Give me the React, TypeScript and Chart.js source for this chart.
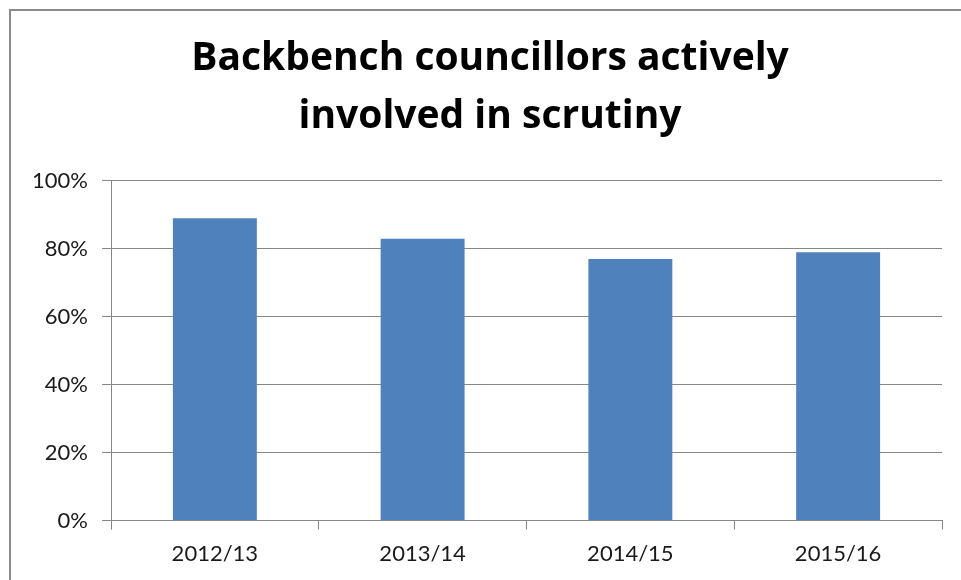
import React, { useEffect, useRef } from "react";
import { Chart, registerables } from "chart.js";

Chart.register(...registerables);

const categories = ["2012/13", "2013/14", "2014/15", "2015/16"];
const seriesValues = [89, 83, 77, 79];
const titleLines = ["Backbench councillors actively", "involved in scrutiny"];
const yTickMax = 100;
const yTickStep = 20;

const framePlugin = {
  id: "frame",
  beforeDraw(chart: any) {
    const ctx = chart.ctx;
    ctx.save();
    ctx.fillStyle = "#ffffff";
    ctx.fillRect(0, 0, chart.width, chart.height);
    ctx.strokeStyle = "#8a8a8a";
    ctx.lineWidth = 2;
    ctx.beginPath();
    ctx.moveTo(10, chart.height + 5);
    ctx.lineTo(10, 10);
    ctx.lineTo(chart.width + 5, 10);
    ctx.stroke();
    ctx.restore();
  },
  afterLayout(chart: any) {
    const tb = chart.titleBlock;
    if (tb) {
      tb.left += 7;
      tb.right += 7;
    }
  },
};

export default function App() {
  const ref = useRef<HTMLCanvasElement | null>(null);

  useEffect(() => {
    if (!ref.current) return;
    const chart = new Chart(ref.current, {
      type: "bar",
      data: {
        labels: categories,
        datasets: [
          {
            data: seriesValues,
            backgroundColor: "#4F81BD",
            borderWidth: 0,
            categoryPercentage: 1,
            barPercentage: 0.404,
          },
        ],
      },
      options: {
        animation: false,
        responsive: false,
        devicePixelRatio: 1,
        layout: { padding: { left: 24, right: 19, top: 0, bottom: 2 } },
        plugins: {
          legend: { display: false },
          tooltip: { enabled: false },
          title: {
            display: true,
            text: titleLines,
            color: "#000",
            font: { family: "Open Sans", size: 39, weight: "bold", lineHeight: 1.487 },
            padding: { top: 30, bottom: 35 },
          },
        },
        scales: {
          x: {
            grid: {
              display: true,
              drawOnChartArea: false,
              drawTicks: true,
              tickLength: 9,
              color: "#878787",
              offset: true,
            },
            border: { display: true, color: "#878787" },
            ticks: {
              color: "#1a1a1a",
              font: { family: "Lato", size: 22 },
              padding: 11,
            },
          },
          y: {
            min: 0,
            max: yTickMax,
            afterFit(scale: any) {
              scale.width = 87;
            },
            grid: {
              color: "#878787",
              tickLength: 9,
            },
            border: { display: true, color: "#878787" },
            ticks: {
              stepSize: yTickStep,
              color: "#1a1a1a",
              font: { family: "Lato", size: 22 },
              padding: 14,
              callback: (v: any) => v + "%",
            },
          },
        },
      },
      plugins: [framePlugin],
    });
    return () => chart.destroy();
  }, []);

  return (
    <canvas
      ref={ref}
      width={961}
      height={580}
      style={{ position: "absolute", left: 0, top: 0 }}
    />
  );
}
